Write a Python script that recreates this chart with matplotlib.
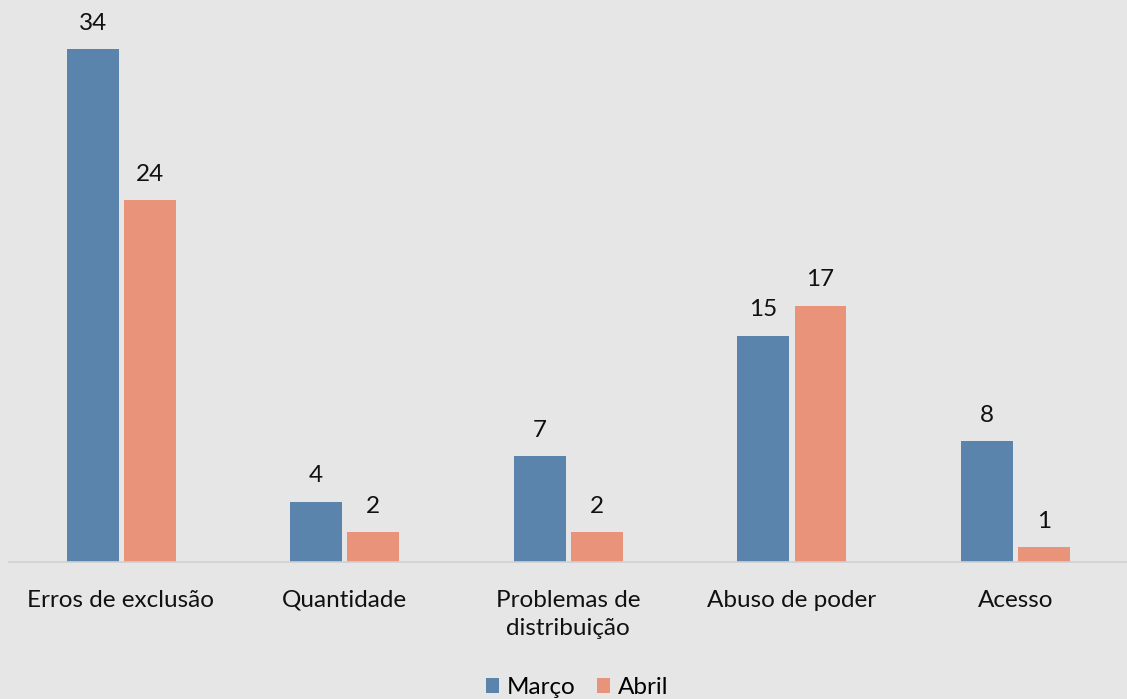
import matplotlib.pyplot as plt
import numpy as np

categorias = ['Erros de exclusão', 'Quantidade', 'Problemas de\ndistribuição', 'Abuso de poder', 'Acesso']
marco = [34, 4, 7, 15, 8]
abril = [24, 2, 2, 17, 1]

fundo = '#E6E6E6'
azul = '#5B84AD'
laranja = '#E8937A'

plt.rcParams['font.family'] = ['Lato', 'DejaVu Sans']

fig = plt.figure(figsize=(11.27, 6.99), dpi=100, facecolor=fundo)
ax = fig.add_axes([9 / 1127, 137 / 699, 1 - 9 / 1127, 543 / 699])
ax.set_facecolor(fundo)

x = np.arange(len(categorias))
w = 0.232
b1 = ax.bar(x - 0.126, marco, w, color=azul, label='Março')
b2 = ax.bar(x + 0.129, abril, w, color=laranja, label='Abril')

for barras in (b1, b2):
    for b in barras:
        ax.annotate(str(int(b.get_height())), (b.get_x() + b.get_width() / 2, b.get_height()),
                    xytext=(0, 11), textcoords='offset points', ha='center', va='bottom',
                    fontsize=17.5, color='#111111')

ax.set_xlim(-0.5, 4.5)
ax.set_ylim(0, 36)
ax.set_yticks([])
ax.set_xticks(x)
ax.set_xticklabels(categorias, fontsize=17.5, color='#111111', linespacing=1.45)
ax.tick_params(axis='x', length=0, pad=20)
for s in ['top', 'right', 'left']:
    ax.spines[s].set_visible(False)
ax.spines['bottom'].set_color('#D0D0D0')
ax.spines['bottom'].set_linewidth(1.2)

fig.legend(loc='lower center', bbox_to_anchor=(0.512, -0.03), ncol=2, frameon=False,
           fontsize=17.5, handlelength=0.55, handleheight=0.55, handletextpad=0.3, columnspacing=0.9)

fig.savefig('out.png', dpi=100, facecolor=fundo)
